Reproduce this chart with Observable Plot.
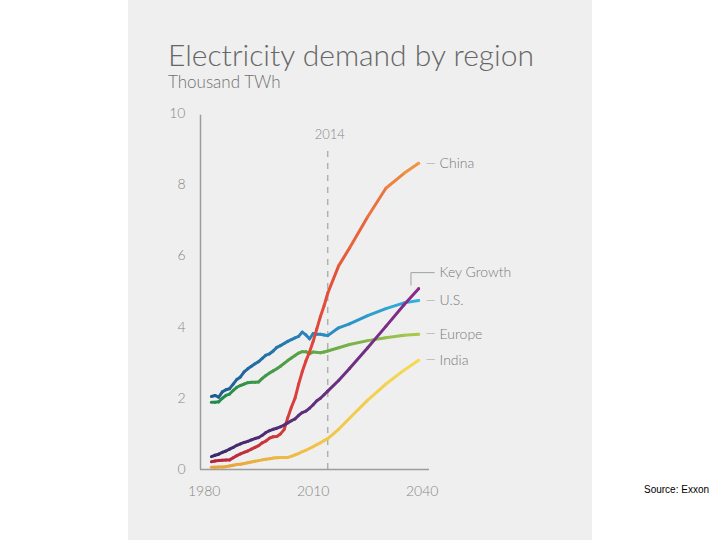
<!DOCTYPE html>
<html><head><meta charset="utf-8">
<script src="https://cdn.jsdelivr.net/npm/d3@7"></script>
<script src="https://cdn.jsdelivr.net/npm/@observablehq/plot@0.6"></script>
<style>
html,body{margin:0;padding:0;background:#fff;width:720px;height:540px;overflow:hidden;}
#panel{position:absolute;left:128px;top:0;width:464px;height:540px;background:#efefef;}
#title{position:absolute;left:40px;top:39px;font-family:Lato,"Open Sans",sans-serif;font-weight:300;font-size:30px;line-height:30px;color:#666;white-space:nowrap;}
#subtitle{position:absolute;left:40px;top:73px;font-family:Lato,"Open Sans",sans-serif;font-weight:300;font-size:17px;line-height:17px;color:#707070;white-space:nowrap;}
#chart{position:absolute;left:0;top:100px;}
#source{position:absolute;left:644px;top:484px;font-family:"Liberation Sans",Arial,sans-serif;font-size:10px;color:#000;white-space:nowrap;}
</style>
</head><body>
<div id="panel">
  <div id="title">Electricity demand by region</div>
  <div id="subtitle">Thousand TWh</div>
  <div id="chart"></div>
</div>
<div id="source">Source: Exxon</div>
<script>
// ---- data (thousand TWh) ----
const histYears = [1982,1983,1984,1985,1986,1987,1988,1989,1990,1991,1992,1993,1994,1995,1996,1997,1998,1999,2000,2001,2002,2003,2004,2005,2006,2007,2008,2009,2010,2011,2012,2013,2014];
const projYears = [2017,2020,2025,2030,2035,2039];
const years = histYears.concat(projYears);

const china = [0.22,0.24,0.25,0.26,0.27,0.27,0.33,0.39,0.44,0.48,0.52,0.57,0.62,0.67,0.75,0.8,0.88,0.92,0.93,1.0,1.12,1.45,1.75,2.0,2.4,2.75,3.05,3.3,3.6,3.95,4.3,4.6,4.95,
               5.72,6.22,7.1,7.9,8.32,8.6];
const keyGrowth = [0.36,0.4,0.43,0.48,0.52,0.57,0.62,0.68,0.72,0.76,0.79,0.83,0.87,0.9,0.96,1.04,1.09,1.13,1.16,1.2,1.25,1.31,1.37,1.42,1.52,1.6,1.64,1.72,1.82,1.93,2.0,2.1,2.2,
               2.5,2.84,3.42,4.02,4.63,5.08];
const us = [2.05,2.08,2.03,2.18,2.24,2.27,2.4,2.53,2.6,2.74,2.83,2.9,2.97,3.03,3.12,3.21,3.25,3.33,3.43,3.48,3.54,3.6,3.65,3.7,3.74,3.86,3.78,3.67,3.82,3.8,3.8,3.78,3.76,
               3.98,4.09,4.32,4.52,4.68,4.75];
const europe = [1.89,1.89,1.9,2.0,2.08,2.12,2.22,2.31,2.36,2.4,2.44,2.45,2.45,2.46,2.56,2.64,2.71,2.77,2.83,2.9,2.98,3.06,3.13,3.2,3.27,3.31,3.31,3.25,3.3,3.29,3.28,3.3,3.33,
               3.42,3.51,3.62,3.7,3.77,3.8];
const india = [0.06,0.06,0.07,0.07,0.08,0.1,0.12,0.14,0.15,0.17,0.19,0.21,0.23,0.25,0.27,0.29,0.3,0.32,0.33,0.34,0.34,0.34,0.37,0.41,0.45,0.5,0.54,0.59,0.64,0.7,0.75,0.81,0.87,
               1.13,1.44,1.95,2.4,2.79,3.07];

const seriesNames = ["China","Key Growth","U.S.","Europe","India"];
const xTicks = [1980, 2010, 2040];
const yTicks = [0, 2, 4, 6, 8, 10];
const markerYear = 2014;

// ---- styles ----
const gradients = {
  "China": ["#b3243f", "#e2463a", "#f0a043"],
  "Key Growth": ["#3a2a6c", "#62307c", "#8d2a8f"],
  "U.S.": ["#1f5a90", "#2a86bd", "#33b6e0"],
  "Europe": ["#1d8a4c", "#62a845", "#b0cc4c"],
  "India": ["#e6a13b", "#f0c448", "#f6dc55"]
};
const valuesByName = {"China": china, "Key Growth": keyGrowth, "U.S.": us, "Europe": europe, "India": india};
const drawOrder = ["India", "Europe", "U.S.", "China", "Key Growth"];

const y0 = years[0], y1 = years[years.length - 1];
const rows = [];
for (const name of drawOrder) {
  const interp = d3.piecewise(d3.interpolateRgb, gradients[name]);
  valuesByName[name].forEach((v, i) => {
    rows.push({name, year: years[i], value: v, color: interp((years[i] - y0) / (y1 - y0))});
  });
}
const ends = seriesNames.map(name => {
  const vals = valuesByName[name];
  const v = vals[vals.length - 1];
  return {name, year: y1, value: v, labelValue: name === "Key Growth" ? v + 0.45 : v};
});
const plain = ends.filter(d => d.name !== "Key Growth");
const kg = ends.find(d => d.name === "Key Growth");
const bracket = [
  {x: kg.year - 2.1, y: kg.value + 0.1},
  {x: kg.year - 2.1, y: kg.labelValue},
  {x: kg.year + 4.3, y: kg.labelValue}
];

const axisColor = "#9c9c9c";
const textColor = "#868686";

const chart = Plot.plot({
  width: 464,
  height: 410,
  marginTop: 13,
  marginBottom: 41,
  marginLeft: 72,
  marginRight: 163,
  style: {fontFamily: "Lato, 'Open Sans', sans-serif", fontSize: "14px", fontWeight: 300, color: textColor, background: "transparent", overflow: "visible"},
  x: {domain: [1979, 2042], ticks: xTicks, tickFormat: d => String(d), tickSize: 0, tickPadding: 17, label: null},
  y: {domain: [0, 10], ticks: yTicks, tickSize: 0, tickPadding: 15, label: null},
  marks: [
    Plot.ruleX([markerYear], {y1: 0, y2: 9.1, stroke: "#b0b0b0", strokeWidth: 1.5, strokeDasharray: "6,6"}),
    Plot.text([markerYear], {x: d => d, y: 9.1, text: d => String(d), dy: -7, fill: textColor, fontSize: 13, lineAnchor: "bottom", dx: 2}),
    Plot.ruleX([1979], {y1: 0, y2: 9.95, stroke: axisColor, strokeWidth: 1.5}),
    Plot.ruleY([0], {x1: 1979, x2: 2042, stroke: axisColor, strokeWidth: 1.5}),
    Plot.line(rows, {x: "year", y: "value", z: "name", stroke: "color", strokeWidth: 3, strokeLinecap: "round", strokeLinejoin: "round"}),
    Plot.text(plain, {x: "year", y: "labelValue", text: () => "—", dx: 12, fill: "#a0a0a0", fontSize: 13}),
    Plot.line(bracket, {x: "x", y: "y", stroke: "#a0a0a0", strokeWidth: 1}),
    Plot.text(ends, {x: "year", y: "labelValue", text: "name", dx: 21, textAnchor: "start", fill: "#7a7a7a", fontSize: 14})
  ]
});
document.getElementById("chart").appendChild(chart);
</script>
</body></html>
